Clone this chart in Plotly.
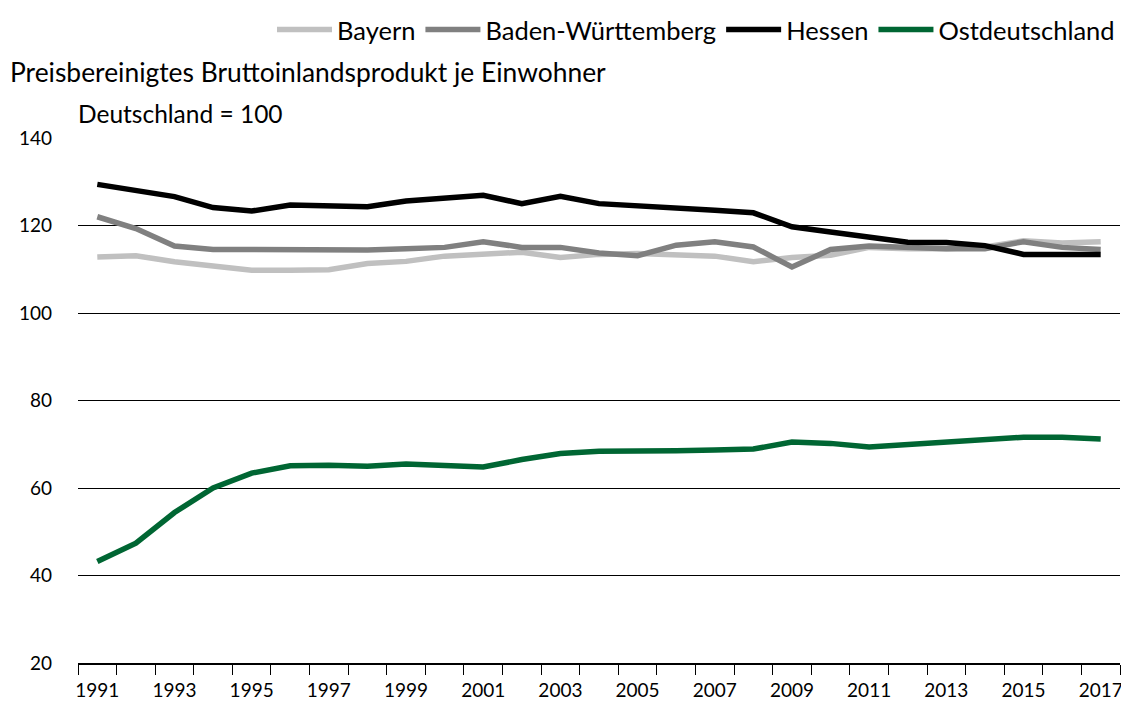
import plotly.graph_objects as go

years = [str(y) for y in range(1991, 2018)]

bayern = [112.8, 113.1, 111.7, 110.7, 109.8, 109.8, 109.9, 111.3, 111.8, 113.0,
          113.4, 113.9, 112.7, 113.4, 113.6, 113.3, 113.0, 111.7, 112.7, 113.2,
          115.0, 114.7, 114.7, 115.1, 116.5, 116.0, 116.3]
bw = [122.0, 119.3, 115.3, 114.5, 114.5, 114.5, 114.3, 114.4, 114.7, 115.0,
      116.3, 115.0, 115.0, 113.7, 113.1, 115.5, 116.3, 115.1, 110.5, 114.5,
      115.3, 114.9, 114.7, 114.7, 116.3, 115.0, 114.5]
hessen = [129.4, 128.1, 126.6, 124.1, 123.3, 124.7, 124.5, 124.3, 125.6, 126.2,
          126.9, 125.0, 126.7, 125.0, 124.6, 124.0, 123.5, 122.9, 119.7, 118.5,
          117.5, 116.2, 116.1, 115.4, 113.4, 113.4, 113.4]
ost = [43.2, 47.4, 54.4, 60.0, 63.4, 65.1, 65.2, 65.0, 65.5, 65.0,
       64.8, 66.5, 67.9, 68.4, 68.3, 68.5, 68.7, 68.9, 70.5, 70.2,
       69.4, 69.9, 70.3, 71.1, 71.6, 71.6, 71.2]

series = [("Bayern", bayern, "#c0c0c0"),
          ("Baden-Württemberg", bw, "#808080"),
          ("Hessen", hessen, "#000000"),
          ("Ostdeutschland", ost, "#006633")]

tick_text = [y if int(y) % 2 == 1 else "" for y in years]
y_ticks = [20, 40, 60, 80, 100, 120, 140]

FONT = "Source Sans Pro, Lato, Noto Sans, sans-serif"

fig = go.Figure()
for name, vals, col in series:
    fig.add_trace(go.Scatter(x=years, y=vals, name=name, mode="lines",
                             line=dict(color=col, width=5.5)))

# page body has an 8px default margin; layout coords = picture coords - 8
W, H = 1121, 695
L, R, T, B = 70, 9, 130, 40
pw = W - L - R
ph = H - T - B

fig.update_layout(
    width=W, height=H,
    margin=dict(l=L, r=R, t=T, b=B, autoexpand=False),
    plot_bgcolor="white", paper_bgcolor="white",
    font=dict(family=FONT, size=19, color="#000000"),
    showlegend=True,
    legend=dict(orientation="h", x=1.0, xanchor="right",
                y=(H - B - 22) / ph, yanchor="middle",
                font=dict(size=25.5), itemwidth=55, tracegroupgap=0,
                bgcolor="rgba(0,0,0,0)"),
    xaxis=dict(type="category", tickmode="array", tickvals=years, ticktext=tick_text,
               range=[-0.5, len(years) - 0.5],
               tickson="boundaries", ticks="outside", ticklen=10, tickcolor="#000000",
               tickwidth=1, showgrid=False, showline=True, linecolor="#000000",
               linewidth=2, tickfont=dict(size=19), zeroline=False, tickangle=0,
               automargin=False, ticklabelstandoff=9),
    yaxis=dict(range=[20, 140], tickvals=y_ticks, showgrid=True, gridcolor="#000000",
               gridwidth=1, zeroline=False, showline=False, ticks="",
               tickfont=dict(size=19), ticklabelstandoff=25, automargin=False),
    annotations=[
        dict(text="Preisbereinigtes Bruttoinlandsprodukt je Einwohner",
             xref="paper", yref="paper", x=(0 - L) / pw, y=(H - B - 64) / ph,
             xanchor="left", yanchor="middle", showarrow=False, font=dict(size=26.4)),
        dict(text="Deutschland = 100",
             xref="paper", yref="paper", x=(68 - L) / pw, y=(H - B - 106) / ph,
             xanchor="left", yanchor="middle", showarrow=False, font=dict(size=24.5)),
    ],
)

fig.write_html("out.html")
